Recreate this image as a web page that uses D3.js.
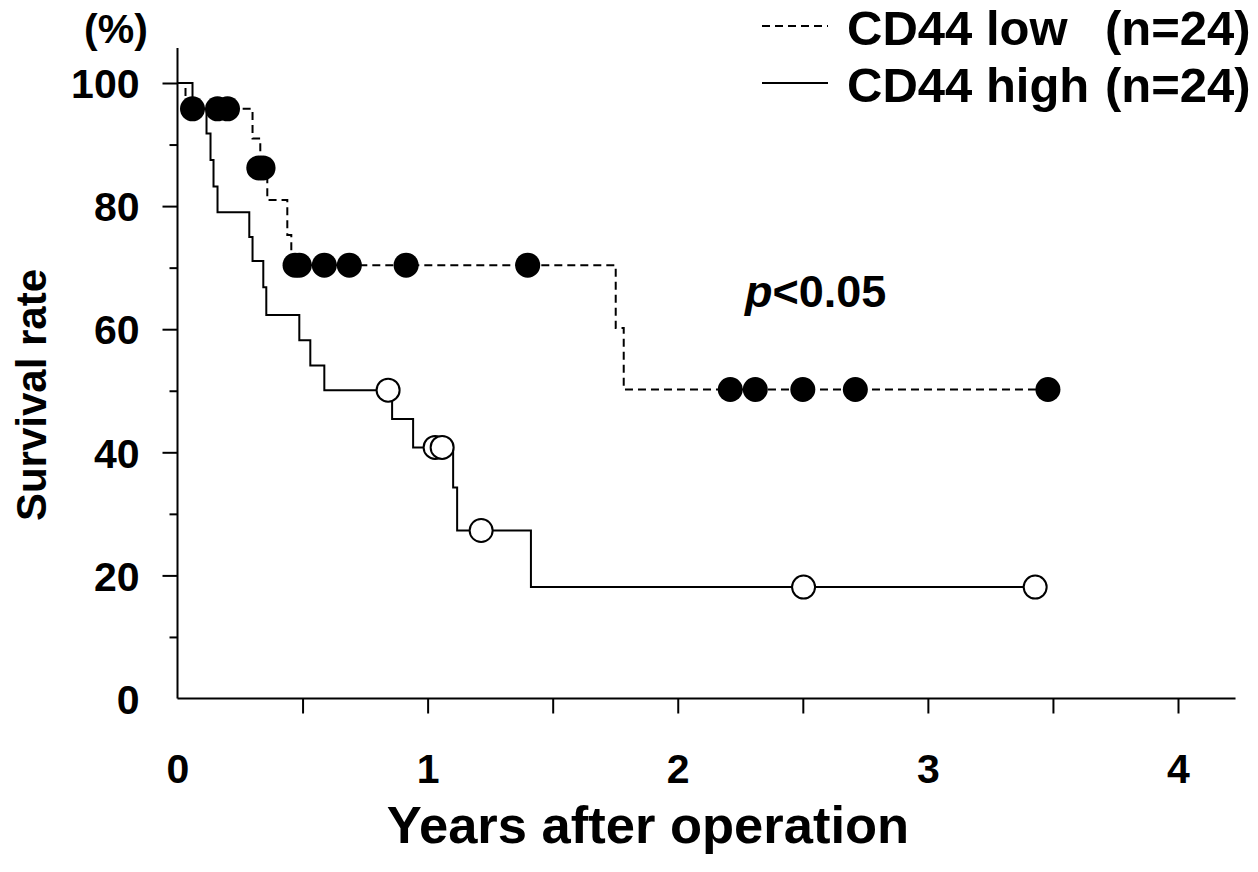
<!DOCTYPE html>
<meta charset="utf-8">
<style>
  body { margin: 0; background: #fff; }
  text { font-family: Arial, "Liberation Sans", Helvetica, sans-serif; font-weight: bold; fill: #000; }
</style>
<script src="https://d3js.org/d3.v7.min.js"></script>
<svg id="chart"></svg>
<script>
// Kaplan-Meier steps: [years, survival %]
var lowSteps = [
  [0, 100], [0.032, 95.8], [0.30, 91.0], [0.331, 86.2], [0.359, 81.0],
  [0.439, 75.3], [0.455, 70.4], [1.752, 60.2], [1.784, 50.2], [3.48, 50.2]
];
var highSteps = [
  [0, 100], [0.06, 95.8], [0.116, 91.8], [0.132, 87.5], [0.144, 83.2],
  [0.16, 79.0], [0.287, 75.0], [0.30, 71.1], [0.343, 66.8], [0.355, 62.3],
  [0.487, 58.2], [0.531, 54.1], [0.587, 50.1], [0.858, 45.4], [0.942, 40.8],
  [1.102, 34.3], [1.118, 27.3], [1.413, 18.1], [3.429, 18.1]
];
// censored cases
var lowCensored = [
  [0.06, 95.8], [0.16, 95.8], [0.20, 95.8], [0.325, 86.2], [0.342, 86.2],
  [0.47, 70.4], [0.487, 70.4], [0.587, 70.4], [0.687, 70.4], [0.914, 70.4], [1.40, 70.4],
  [2.21, 50.2], [2.31, 50.2], [2.50, 50.2], [2.71, 50.2], [3.48, 50.2]
];
var highCensored = [
  [0.842, 50.1], [1.03, 40.8], [1.058, 40.8], [1.214, 27.3], [2.503, 18.1], [3.429, 18.1]
];

var xLabels = [0, 1, 2, 3, 4];
var xTicks = [0.5, 1, 1.5, 2, 2.5, 3, 3.5, 4];
var yLabels = [0, 20, 40, 60, 80, 100];
var yMajor = [20, 40, 60, 80, 100];
var yMinor = [10, 30, 50, 70, 90];
var legendNames = ["CD44 low", "CD44 high"];
var legendN = ["(n=24)", "(n=24)"];

var width = 1258, height = 872;
var svg = d3.select("#chart").attr("width", width).attr("height", height);

var x = d3.scaleLinear().domain([0, 4]).range([177.5, 1178]);
var y = d3.scaleLinear().domain([0, 100]).range([698.5, 83]);
var xEnd = 4.23, yEnd = 105.7;

// axes lines
svg.append("line")
  .attr("x1", x(0)).attr("x2", x(xEnd)).attr("y1", y(0)).attr("y2", y(0))
  .attr("stroke", "#000").attr("stroke-width", 2);
svg.append("line")
  .attr("x1", x(0)).attr("x2", x(0)).attr("y1", y(0)).attr("y2", y(yEnd))
  .attr("stroke", "#000").attr("stroke-width", 2);

function clean(g) {
  g.select(".domain").remove();
  g.selectAll(".tick line").attr("stroke", "#000").attr("stroke-width", 2);
  g.selectAll("text").attr("font-family", null).attr("font-size", null);
}

// x ticks
svg.append("g").attr("transform", "translate(0," + y(0) + ")")
  .call(d3.axisBottom(x).tickValues(xTicks).tickSize(15).tickFormat(""))
  .call(clean);
svg.append("g").attr("transform", "translate(0," + y(0) + ")")
  .call(d3.axisBottom(x).tickValues(xLabels).tickSize(0).tickPadding(55).tickFormat(d3.format("d")))
  .call(clean)
  .call(function (g) { g.selectAll(".tick line").remove(); g.selectAll("text").style("font-size", "41px"); });

// y ticks
svg.append("g").attr("transform", "translate(" + x(0) + ",0)")
  .call(d3.axisLeft(y).tickValues(yMajor).tickSize(15).tickFormat(""))
  .call(clean);
svg.append("g").attr("transform", "translate(" + x(0) + ",0)")
  .call(d3.axisLeft(y).tickValues(yMinor).tickSize(8).tickFormat(""))
  .call(clean);
svg.append("g").attr("transform", "translate(" + x(0) + ",0)")
  .call(d3.axisLeft(y).tickValues(yLabels).tickSize(0).tickPadding(38).tickFormat(d3.format("d")))
  .call(clean)
  .call(function (g) { g.selectAll(".tick line").remove(); g.selectAll("text").style("font-size", "41px").attr("dy", "0.36em"); });

// survival curves
var line = d3.line()
  .x(function (d) { return x(d[0]); })
  .y(function (d) { return y(d[1]); })
  .curve(d3.curveStepAfter);

svg.append("path").datum(highSteps)
  .attr("d", line).attr("fill", "none")
  .attr("stroke", "#000").attr("stroke-width", 2);
svg.append("path").datum(lowSteps)
  .attr("d", line).attr("fill", "none")
  .attr("stroke", "#000").attr("stroke-width", 2)
  .attr("stroke-dasharray", "8,5");

// censor marks
svg.append("g").selectAll("circle").data(highCensored).enter().append("circle")
  .attr("cx", function (d) { return x(d[0]); })
  .attr("cy", function (d) { return y(d[1]); })
  .attr("r", 11.5).attr("fill", "#fff").attr("stroke", "#000").attr("stroke-width", 2);
svg.append("g").selectAll("circle").data(lowCensored).enter().append("circle")
  .attr("cx", function (d) { return x(d[0]); })
  .attr("cy", function (d) { return y(d[1]); })
  .attr("r", 12.5).attr("fill", "#000");

// axis titles
svg.append("text").attr("x", 116).attr("y", 43).attr("text-anchor", "middle")
  .style("font-size", "41px").text("(%)");
svg.append("text").attr("transform", "translate(46,395) rotate(-90)")
  .attr("text-anchor", "middle").style("font-size", "42px").text("Survival rate");
svg.append("text").attr("x", 648).attr("y", 843).attr("text-anchor", "middle")
  .style("font-size", "52.5px").text("Years after operation");

// p value
var p = svg.append("text").attr("x", 745).attr("y", 307).style("font-size", "45px");
p.append("tspan").style("font-style", "italic").text("p");
p.append("tspan").text("<0.05");

// legend
var leg = svg.append("g").selectAll("g").data(legendNames).enter().append("g")
  .attr("transform", function (d, i) { return "translate(0," + (45 + i * 57) + ")"; });
leg.append("line")
  .attr("x1", 762).attr("x2", 828).attr("y1", -19).attr("y2", -19)
  .attr("stroke", "#000").attr("stroke-width", 2)
  .attr("stroke-dasharray", function (d, i) { return i === 0 ? "8,5" : null; });
leg.append("text").attr("x", 847).attr("y", 0).style("font-size", "49px")
  .text(function (d) { return d; });
leg.append("text").attr("x", 1105).attr("y", 0).style("font-size", "49px")
  .text(function (d, i) { return legendN[i]; });
</script>
